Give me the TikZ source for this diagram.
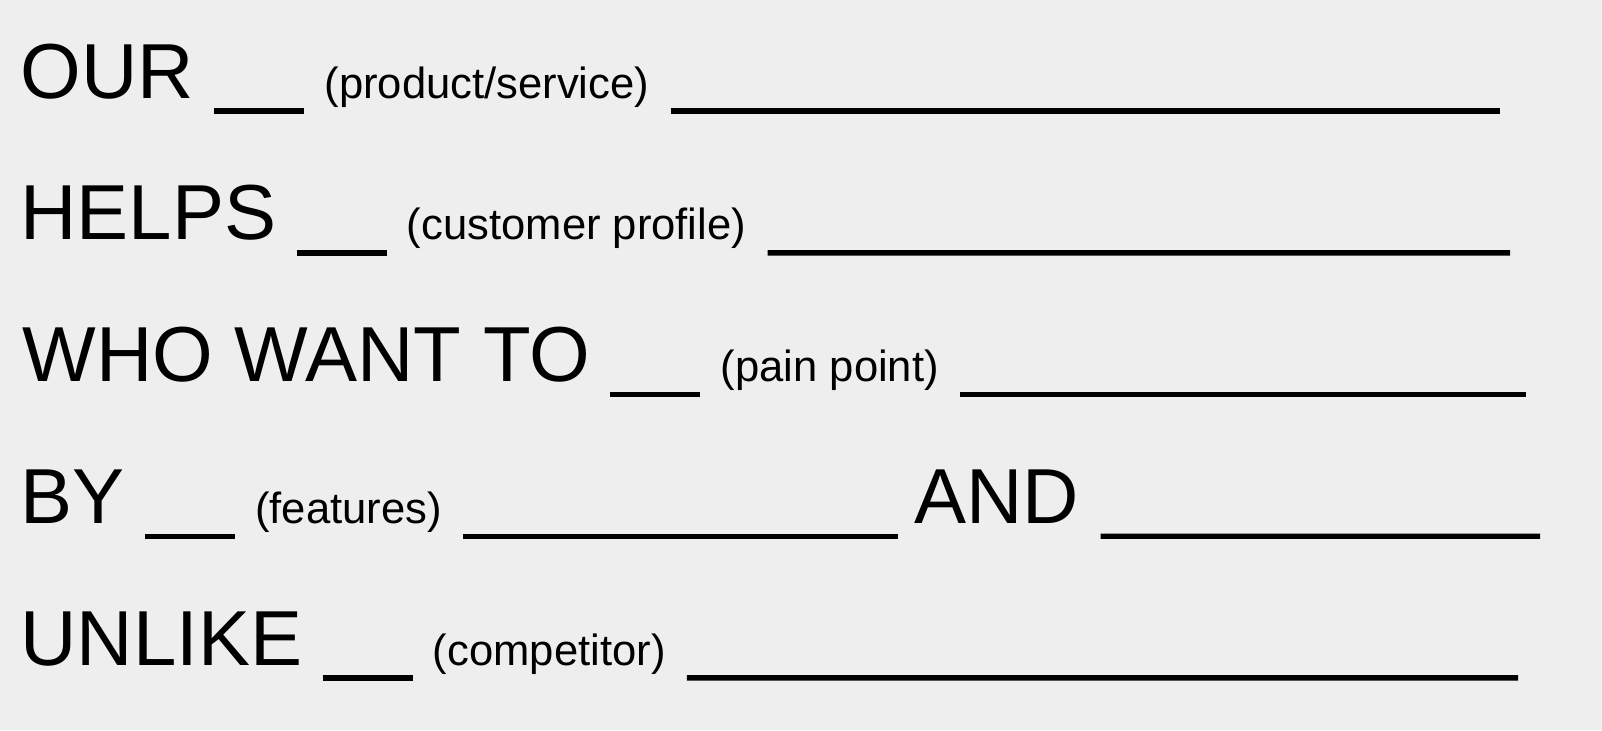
\documentclass[tikz,border=0pt]{standalone}
\usepackage{fontspec}
\setmainfont{Liberation Sans}
\usetikzlibrary{positioning}

\definecolor{paper}{HTML}{EEEEEE}

\tikzset{
  word/.style={anchor=base west, inner sep=0pt, font=\fontsize{39pt}{47pt}\selectfont},
  hint/.style={anchor=base west, inner sep=0pt, font=\fontsize{21.8pt}{26pt}\selectfont},
  blank/.style={line width=2.7pt},
}

\begin{document}
\begin{tikzpicture}[x=0.5pt, y=0.5pt]
    % draw paper
    \fill[paper] (0, 0) rectangle (1602, 730);
    \useasboundingbox (0, 0) rectangle (1602, 730);

    % draw big words
    \node[word] (our) at (20, 631.7) {OUR};
    \node[word] (helps) at (20, 490) {HELPS};
    \node[word] (who) at (22, 348.3) {WHO WANT TO};
    \node[word] (by) at (20, 206.6) {BY};
    \node[word] (unlike) at (20, 65) {UNLIKE};

    % draw hints
    \node[hint, right=65pt of our.base east, anchor=base west] (product) {(product/service)};
    \node[hint, right=65pt of helps.base east, anchor=base west] (customer) {(customer profile)};
    \node[hint, right=65pt of who.base east, anchor=base west] (pain) {(pain point)};
    \node[hint, right=65pt of by.base east, anchor=base west] (features) {(features)};
    \node[hint, right=65pt of unlike.base east, anchor=base west] (competitor) {(competitor)};
    \node[word, right=236pt of features.base east, anchor=base west] (and) {AND};

    % draw line ends
    \coordinate (end1) at (1500, 618.9);
    \coordinate (end2) at (1510, 477.2);
    \coordinate (end3) at (1526, 335.5);
    \coordinate (end4) at (1540, 193.8);
    \coordinate (end5) at (1518, 52.2);

    % draw short blanks
    \draw[blank] ([shift={(20, -12.8)}]our.base east) -- ([shift={(-20, -12.8)}]product.base west);
    \draw[blank] ([shift={(20, -12.8)}]helps.base east) -- ([shift={(-20, -12.8)}]customer.base west);
    \draw[blank] ([shift={(20, -12.8)}]who.base east) -- ([shift={(-20, -12.8)}]pain.base west);
    \draw[blank] ([shift={(20, -12.8)}]by.base east) -- ([shift={(-20, -12.8)}]features.base west);
    \draw[blank] ([shift={(20, -12.8)}]unlike.base east) -- ([shift={(-20, -12.8)}]competitor.base west);

    % draw long blanks
    \draw[blank] ([shift={(21, -12.8)}]product.base east) -- (end1);
    \draw[blank] ([shift={(21, -12.8)}]customer.base east) -- (end2);
    \draw[blank] ([shift={(21, -12.8)}]pain.base east) -- (end3);
    \draw[blank] ([shift={(21, -12.8)}]features.base east) -- ([shift={(-16, -12.8)}]and.base west);
    \draw[blank] ([shift={(21, -12.8)}]and.base east) -- (end4);
    \draw[blank] ([shift={(21, -12.8)}]competitor.base east) -- (end5);
\end{tikzpicture}
\end{document}
